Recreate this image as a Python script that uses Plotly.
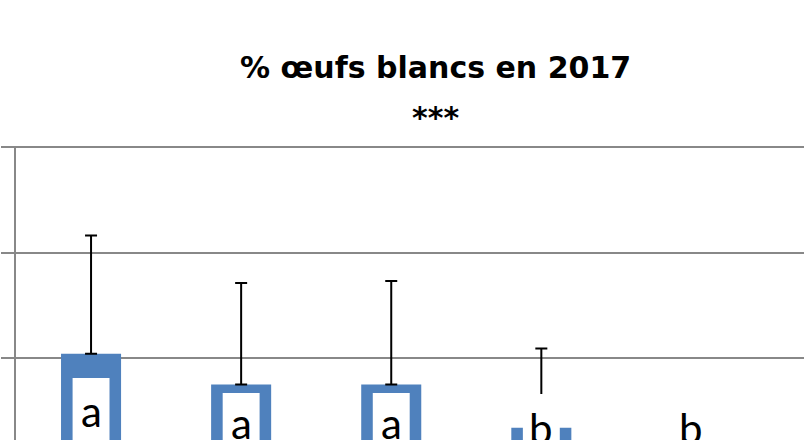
import plotly.graph_objects as go

# ---- data ----
categories = ["G1", "G2", "G3", "G4", "G5"]
means = [20.4, 17.5, 17.5, 13.4, 0.0]
sds = [11.2, 9.6, 9.8, 7.5, 0.0]
letters = ["a", "a", "a", "b", "b"]
y_max = 40

# ---- label layout (positions only) ----
label_box_top = [18.1, 16.68, 16.68, 16.59, 16.59]
label_text_y = [14.98, 13.84, 13.84, 13.36, 13.36]

BLUE = "#4F81BD"
GRID = "#888888"
LABEL_FONT = "Lato"
TITLE_FONT = "DejaVu Sans"
PX_PER_UNIT = 10.55

x_idx = list(range(len(categories)))

fig = go.Figure()
fig.add_trace(go.Bar(
    x=x_idx, y=means,
    marker=dict(color=BLUE, line=dict(width=0)),
    error_y=dict(type="data", symmetric=False, array=sds,
                 arrayminus=[0] * len(sds),
                 color="black", thickness=2, width=6),
    hoverinfo="skip",
))

shapes = []
annotations = []
for i, (top, ty, lt) in enumerate(zip(label_box_top, label_text_y, letters)):
    shapes.append(dict(type="rect", xref="x", yref="y",
                       x0=i - 0.123, x1=i + 0.123, y0=0, y1=top,
                       fillcolor="white", line=dict(width=0), layer="above"))
    annotations.append(dict(x=i, y=ty, xref="x", yref="y", text=lt,
                            showarrow=False, yanchor="middle",
                            font=dict(family=LABEL_FONT, size=42, color="black")))

# top gridline + tick (plotly drops the gridline sitting on the edge)
shapes.append(dict(type="line", xref="paper", yref="y",
                   x0=-13 / 788, x1=1, y0=y_max, y1=y_max,
                   line=dict(color=GRID, width=2), layer="below"))

annotations.append(dict(x=0.532, y=1.2, xref="paper", yref="paper",
                        text="<b>% œufs blancs en 2017</b>", showarrow=False,
                        yanchor="bottom", xanchor="center",
                        font=dict(family=TITLE_FONT, size=30, color="black")))
annotations.append(dict(x=0.532, y=1.032, xref="paper", yref="paper",
                        text="<b>***</b>", showarrow=False,
                        yanchor="bottom", xanchor="center",
                        font=dict(family=TITLE_FONT, size=30, color="black")))

top_val = y_max + 1 / PX_PER_UNIT
fig.update_layout(
    width=804, height=440,
    margin=dict(l=16, r=0, t=146, b=0, pad=0),
    paper_bgcolor="white", plot_bgcolor="white",
    showlegend=False,
    bargap=0.6,
    shapes=shapes,
    annotations=annotations,
    xaxis=dict(range=[-0.5, 4.75], showticklabels=False, showgrid=False,
               zeroline=False, showline=False, ticks="",
               tickvals=x_idx, ticktext=categories),
    yaxis=dict(range=[top_val - 294 / PX_PER_UNIT, top_val], dtick=10, tick0=0,
               showgrid=True, gridcolor=GRID, gridwidth=2,
               showline=True, linecolor=GRID, linewidth=2,
               ticks="outside", ticklen=13, tickcolor=GRID, tickwidth=2,
               showticklabels=False, zeroline=False),
)

fig.write_html("out.html",
               config={"displayModeBar": False, "staticPlot": True},
               post_script="document.body.style.margin='0';document.body.style.overflow='hidden';")
